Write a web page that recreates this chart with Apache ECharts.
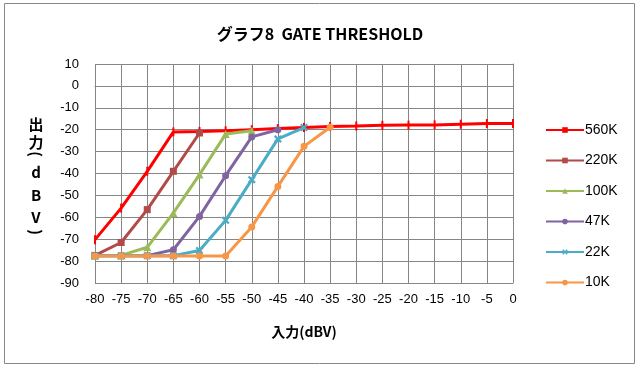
<!DOCTYPE html>
<html><head><meta charset="utf-8">
<script src="https://cdn.jsdelivr.net/npm/echarts@6/dist/echarts.min.js"></script>
<style>html,body{margin:0;padding:0;background:#fff}#c{width:640px;height:370px}</style>
</head><body><div id="c"></div>
<script>
const xVals = [-80,-75,-70,-65,-60,-55,-50,-45,-40,-35,-30,-25,-20,-15,-10,-5,0];
const seriesNames = ['560K','220K','100K','47K','22K','10K'];
const s560 = [-70.2,-55.8,-39,-21,-20.8,-20.5,-20,-19.5,-19,-18.5,-18.3,-18.0,-17.9,-17.8,-17.5,-17.2,-17.2];
const s220 = [-77.4,-71.5,-56.5,-39,-21.5];
const s100 = [-77.5,-77.4,-73.7,-58,-40.5,-22,-20.5];
const s47 = [-77.5,-77.5,-77.5,-74.8,-59.6,-41,-23.3,-20];
const s22 = [-77.5,-77.5,-77.5,-77.5,-75.2,-61.4,-42.8,-24.2,-19];
const s10 = [-77.7,-77.7,-77.7,-77.7,-77.7,-77.7,-64.4,-45.9,-27.6,-18.9];
const titleText = 'グラフ8  GATE THRESHOLD';
const xName = '入力(dBV)';
const yNameChars = ['出','力','(','d','B','V',')'];

const colors = ['#FF0000','#B24B48','#9BBB59','#8064A2','#4BACC6','#F79646'];
const symbols = ['rect','rect','triangle','circle','path://M0,2 L2,0 L5,3 L8,0 L10,2 L7,5 L10,8 L8,10 L5,7 L2,10 L0,8 L3,5 Z','circle'];
const symSizes = [[2,9],7,8,7,8,7];
const allData = [s560,s220,s100,s47,s22,s10];

const chart = echarts.init(document.getElementById('c'));
const font = "'Liberation Sans', 'Noto Sans CJK JP', sans-serif";
const yNameY = [124,142,154,172,195,217,232];
chart.setOption({
  animation:false,
  backgroundColor:'#fff',
  title:{
    text:titleText, left:'center', top:21,
    textStyle:{fontFamily:"'Noto Sans CJK JP', 'Open Sans', sans-serif", fontSize:16, fontWeight:'bold', color:'#000'}
  },
  legend:{
    orient:'vertical', left:540, top:118, itemGap:16.5, itemWidth:38, itemHeight:7,
    data:seriesNames,
    textStyle:{fontFamily:font, fontSize:14, color:'#000', padding:[0,0,0,-4]}
  },
  grid:{left:95, right:127, top:64, bottom:87},
  xAxis:{
    type:'value', min:-80, max:0, interval:5,
    name:xName, nameLocation:'middle', nameGap:42,
    nameTextStyle:{fontFamily:"'Noto Sans CJK JP', sans-serif", fontSize:14, fontWeight:'bold', color:'#000'},
    axisLine:{show:true, lineStyle:{color:'#868686', width:1}},
    axisTick:{show:false},
    axisLabel:{fontFamily:font, fontSize:13, color:'#000', margin:10},
    splitLine:{show:true, lineStyle:{color:'#868686', width:1}}
  },
  yAxis:{
    type:'value', min:-90, max:10, interval:10,
    axisLine:{show:true, lineStyle:{color:'#868686', width:1}},
    axisTick:{show:false},
    axisLabel:{fontFamily:font, fontSize:13, color:'#000', margin:16},
    splitLine:{show:true, lineStyle:{color:'#868686', width:1}}
  },
  graphic:[
    {type:'rect', shape:{x:4.5,y:3.5,width:630,height:360}, style:{fill:'none', stroke:'#888', lineWidth:1}, z:-1}
  ].concat(yNameChars.map((ch,i)=>({
    type:'text', x:36, y:yNameY[i],
    rotation: (ch==='('||ch===')') ? -Math.PI/2 : 0,
    style:{text:ch, fontFamily:"'Noto Sans CJK JP', sans-serif", fontSize:15, fontWeight:'bold', fill:'#000', align:'center', verticalAlign:'middle'}
  }))),
  series: seriesNames.map((n,i)=>({
    name:n, type:'line',
    data: allData[i].map((v,j)=>[xVals[j], v]),
    symbol:symbols[i], symbolSize:symSizes[i], showSymbol:true,
    itemStyle:{color:colors[i]},
    lineStyle:{color:colors[i], width:3},
    z:2+i
  }))
});
</script></body></html>
